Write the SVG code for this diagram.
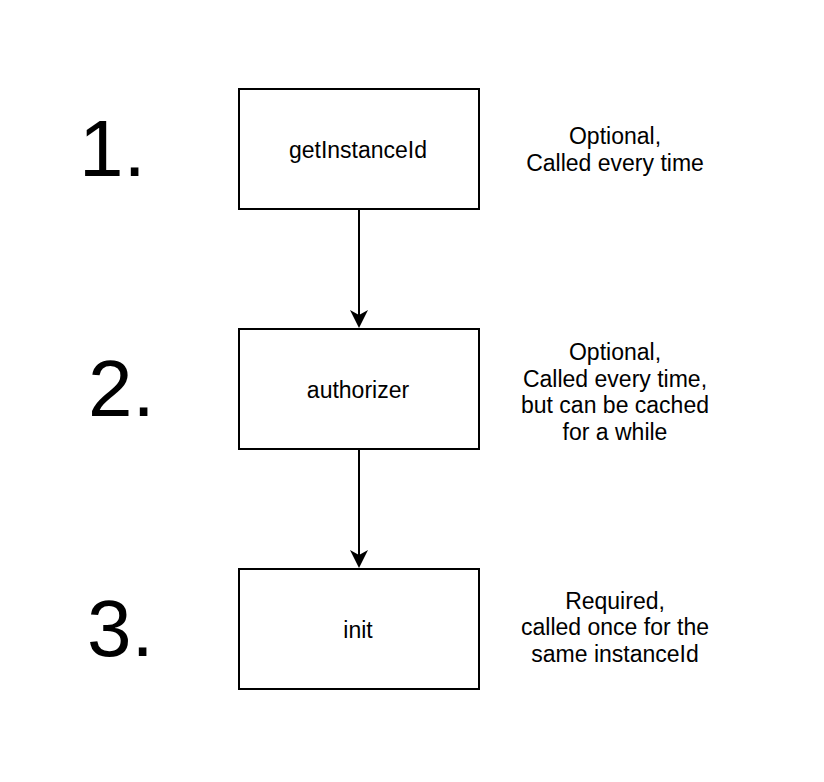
<svg xmlns="http://www.w3.org/2000/svg" width="824" height="782" viewBox="0 0 824 782">
<style>
.box{fill:#fff;stroke:#000;stroke-width:2}
.lbl{font-family:"Liberation Sans",Arial,Helvetica,sans-serif;font-size:23px;fill:#000;text-anchor:middle}
.num{font-family:"Liberation Sans",Arial,Helvetica,sans-serif;font-size:80px;fill:#000}
.edge{stroke:#000;stroke-width:2;fill:none}
</style>
<defs>
<marker id="arrow" viewBox="0 0 18 18" refX="5" refY="9" markerWidth="18" markerHeight="18" markerUnits="userSpaceOnUse" orient="auto">
<path d="M0,0 L18,9 L0,18 L5,9 Z" fill="#000"/>
</marker>
</defs>
<rect width="824" height="782" fill="#fff"/>
<g id="connectors">
<line class="edge" x1="359" y1="209" x2="359" y2="315" marker-end="url(#arrow)"/>
<line class="edge" x1="359" y1="449" x2="359" y2="555" marker-end="url(#arrow)"/>
</g>
<g id="node-getInstanceId">
<rect class="box" x="239" y="89" width="240" height="120"/>
<text class="lbl" x="358" y="157.5">getInstanceId</text>
</g>
<g id="node-authorizer">
<rect class="box" x="239" y="329" width="240" height="120"/>
<text class="lbl" x="358" y="397.5">authorizer</text>
</g>
<g id="node-init">
<rect class="box" x="239" y="569" width="240" height="120"/>
<text class="lbl" x="358" y="637.5">init</text>
</g>
<g id="step-1"><text class="num" x="79" y="176">1.</text></g>
<g id="step-2"><text class="num" x="88" y="416">2.</text></g>
<g id="step-3"><text class="num" x="87" y="656">3.</text></g>
<g id="note-1">
<text class="lbl" x="615" y="144">Optional,</text>
<text class="lbl" x="615" y="170.5">Called every time</text>
</g>
<g id="note-2">
<text class="lbl" x="615" y="360">Optional,</text>
<text class="lbl" x="615" y="386.5">Called every time,</text>
<text class="lbl" x="615" y="413">but can be cached</text>
<text class="lbl" x="615" y="439.5">for a while</text>
</g>
<g id="note-3">
<text class="lbl" x="615" y="608.5">Required,</text>
<text class="lbl" x="615" y="635">called once for the</text>
<text class="lbl" x="615" y="661.5">same instanceId</text>
</g>
</svg>
